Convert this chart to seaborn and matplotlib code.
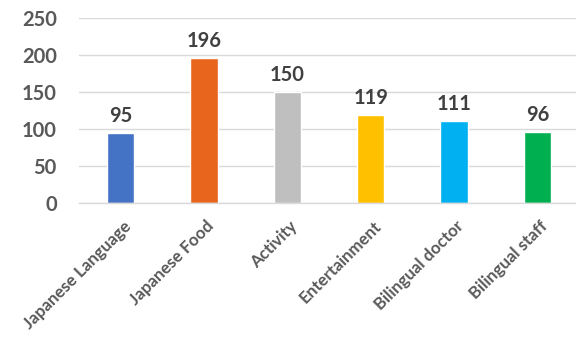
import matplotlib
matplotlib.use("Agg")
import matplotlib.pyplot as plt
import matplotlib.transforms as mtransforms
import seaborn as sns
import pandas as pd

categories = ["Japanese Language", "Japanese Food", "Activity", "Entertainment", "Bilingual doctor", "Bilingual staff"]
values = [95, 196, 150, 119, 111, 96]
colors = ["#4472C4", "#E8651E", "#BFBFBF", "#FFC000", "#00B0F0", "#00B050"]
yticks = [0, 50, 100, 150, 200, 250]

sns.set_style("white")
plt.rcParams["font.family"] = ["Lato", "DejaVu Sans"]

df = pd.DataFrame({"cat": categories, "val": values})

fig = plt.figure(figsize=(5.76, 3.37), dpi=100)
ax = fig.add_axes([79/576, 1-203/337, 500/576, 185/337])
sns.barplot(data=df, x="cat", y="val", hue="cat", palette=colors, width=0.33,
            legend=False, ax=ax, saturation=1)
ax.set_xlim(-0.5, 5.5)
ax.set_ylim(0, 250)
ax.tick_params(axis="y", length=0, pad=16)
ax.tick_params(axis="x", length=0, pad=0)
ax.set_yticks(yticks)
ax.set_yticklabels([str(t) for t in yticks], fontsize=14.5, fontweight="bold", color="#595959")
ax.set_xticks(range(len(categories)))
ax.set_xticklabels(categories, rotation=45, ha="right", rotation_mode="anchor",
                   fontsize=12.2, fontweight="bold", color="#595959")
offset = mtransforms.ScaledTranslation(2/100, -15/100, fig.dpi_scale_trans)
for lbl in ax.get_xticklabels():
    lbl.set_transform(lbl.get_transform() + offset)
ax.set_xlabel("")
ax.set_ylabel("")
ax.grid(axis="y", color="#D9D9D9", linewidth=1)
ax.set_axisbelow(True)
for s in ["top", "right", "left"]:
    ax.spines[s].set_visible(False)
ax.spines["bottom"].set_color("#D9D9D9")
ax.spines["bottom"].set_linewidth(1)
for i, v in enumerate(values):
    ax.text(i, v + 9, str(v), ha="center", va="bottom", fontsize=14.5,
            fontweight="bold", color="#404040")

fig.savefig("out.png", dpi=100)
